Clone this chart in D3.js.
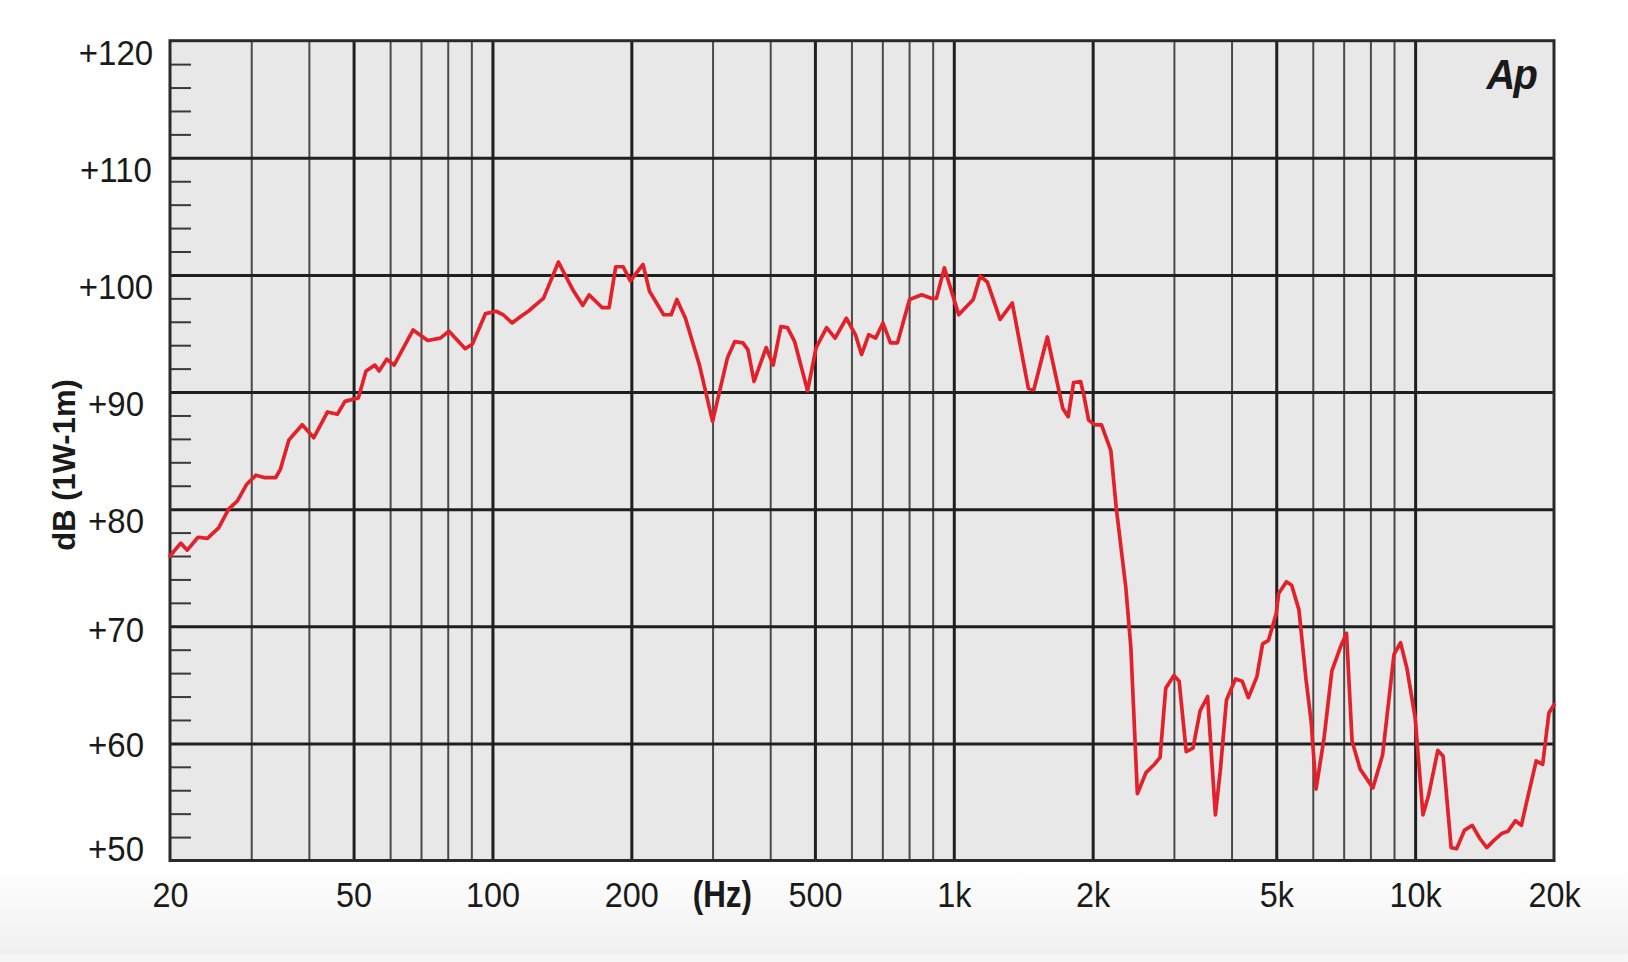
<!DOCTYPE html>
<html>
<head>
<meta charset="utf-8">
<script src="https://cdn.jsdelivr.net/npm/d3@7"></script>
<style>
  html, body { margin: 0; padding: 0; background: #ffffff; }
  svg { display: block; }
</style>
</head>
<body>
<svg id="chart" width="1628" height="962"></svg>
<script>
// ---------------- data ----------------
const freqs = [
  20, 21.1, 21.8, 23.0, 24.1, 25.5, 26.8, 28.0, 29.3, 30.7, 32.0, 33.9, 34.7, 36.2, 38.7, 41.0,
  43.9, 46.1, 47.9, 51.2, 53.2, 55.6, 56.8, 59.0, 61.2, 67.3, 72.4, 77.1, 80.5, 87.3, 90.5,
  96.6, 101.8, 105.5, 110.3, 115.5, 119.6, 126.3, 129, 139, 150, 157, 162, 173, 179, 185, 192,
  199, 212, 219, 235, 244, 251, 262, 281, 300, 323, 335, 349, 358, 369, 392, 406, 422, 436,
  452, 482, 503, 530, 553, 585, 612, 631, 654, 677, 702, 729, 755, 802, 852, 893, 917, 954,
  1025, 1102, 1141, 1182, 1260, 1339, 1451, 1491, 1595, 1723, 1770, 1818, 1883, 1910, 1960,
  2020, 2090, 2190, 2250, 2360, 2420, 2500, 2610, 2720, 2800, 2880, 3000, 3080, 3190, 3300,
  3420, 3550, 3690, 3780, 3900, 4080, 4220, 4350, 4540, 4670, 4810, 5000, 5060, 5260, 5400,
  5600, 5800, 5950, 6100, 6350, 6600, 6900, 7100, 7300, 7600, 8100, 8500, 9000, 9300, 9600,
  10000, 10400, 10700, 11200, 11500, 11970, 12300, 12800, 13300, 13800, 14300, 14800, 15400,
  15900, 16500, 17000, 17400, 18300, 18900, 19500, 20000
];
const spl = [
  76.0, 77.1, 76.5, 77.6, 77.5, 78.4, 80.0, 80.7, 82.1, 82.9, 82.7, 82.7, 83.4, 85.9, 87.2, 86.1,
  88.3, 88.1, 89.2, 89.5, 91.8, 92.3, 91.8, 92.8, 92.3, 95.3, 94.4, 94.6, 95.2, 93.7, 94.1,
  96.7, 96.9, 96.6, 95.9, 96.5, 96.9, 97.7, 98.0, 101.1, 98.6, 97.4, 98.3, 97.2, 97.2, 100.7, 100.7,
  99.5, 100.9, 98.6, 96.6, 96.6, 97.9, 96.3, 92.3, 87.5, 92.9, 94.3, 94.2, 93.6, 90.9, 93.8, 92.3, 95.6, 95.5,
  94.3, 90.1, 93.8, 95.5, 94.6, 96.3, 94.9, 93.2, 94.9, 94.6, 95.9, 94.2, 94.2, 97.9, 98.3, 98.0, 98.0, 100.6,
  96.6, 97.9, 99.9, 99.4, 96.2, 97.6, 90.3, 90.2, 94.7, 88.6, 87.9, 90.8, 90.9, 89.9, 87.6,
  87.2, 87.2, 85.0, 80.1, 73.3, 68.2, 55.7, 57.5, 58.2, 58.8, 64.7, 65.8, 65.3, 59.3, 59.6,
  62.8, 64.0, 53.9, 57.6, 63.7, 65.5, 65.3, 63.9, 65.7, 68.5, 68.8, 71.1, 72.8, 73.8, 73.5,
  71.4, 65.5, 61.9, 56.1, 60.5, 66.2, 68.3, 69.4, 60.2, 57.8, 56.2, 59.0, 67.6, 68.6, 66.4,
  62.2, 53.9, 55.6, 59.4, 58.9, 51.1, 51.0, 52.6, 53.0, 51.9, 51.1, 51.7, 52.3,
  52.5, 53.4, 53.0, 54.8, 58.5, 58.2, 62.6, 63.3
];
const xTickValues = [20, 50, 100, 200, 500, 1000, 2000, 5000, 10000, 20000];
const xTickLabels = ["20", "50", "100", "200", "500", "1k", "2k", "5k", "10k", "20k"];
const yTickValues = [50, 60, 70, 80, 90, 100, 110, 120];
const yTickLabels = ["+50", "+60", "+70", "+80", "+90", "+100", "+110", "+120"];
const majorGridFreqs = [50, 100, 200, 500, 1000, 2000, 5000, 10000];
const minorGridFreqs = [30, 40, 60, 70, 80, 90, 300, 400, 600, 700, 800, 900, 3000, 4000, 6000, 7000, 8000, 9000];
const majorGridDb = [60, 70, 80, 90, 100, 110];
const minorDbTicks = d3.range(52, 120, 2).filter(d => d % 10 !== 0);
const xUnitLabel = "(Hz)";
const yTitle = "dB (1W-1m)";
const logoText = "Ap";

// ---------------- layout ----------------
const L = 170, R = 1554, T = 40.7, B = 860.5;
const svg = d3.select("#chart");
const x = d3.scaleLog().domain([20, 20000]).range([L, R]);
const y = d3.scaleLinear().domain([50, 120]).range([B, T]);
// label centre positions (labels in the original drift slightly from the grid)
const yLab = d3.scaleLinear().domain([50, 60, 70, 80, 120]).range([848, 744, 629, 520, 52]);

const FONT = "'Liberation Sans', Arial, Helvetica, sans-serif";

// background with faint bottom gradient
const defs = svg.append("defs");
const grad = defs.append("linearGradient").attr("id", "bottomGrad")
  .attr("x1", 0).attr("y1", 0).attr("x2", 0).attr("y2", 1);
grad.append("stop").attr("offset", "0%").attr("stop-color", "#ffffff");
grad.append("stop").attr("offset", "100%").attr("stop-color", "#f0f0f0");
svg.append("rect").attr("width", 1628).attr("height", 962).attr("fill", "#ffffff");
svg.append("rect").attr("x", 0).attr("y", 866).attr("width", 1628).attr("height", 88).attr("fill", "url(#bottomGrad)");
svg.append("rect").attr("x", 0).attr("y", 954).attr("width", 1628).attr("height", 8).attr("fill", "#f6f6f6");

// plot background
svg.append("rect").attr("x", L).attr("y", T).attr("width", R - L).attr("height", B - T).attr("fill", "#e8e8e8");

// vertical minor grid
const gMinor = svg.append("g").attr("transform", `translate(0,${B})`)
  .call(d3.axisBottom(x).tickValues(minorGridFreqs).tickSize(-(B - T)).tickFormat(""));
gMinor.select(".domain").remove();
gMinor.selectAll("line").attr("stroke", "#4a4a4a").attr("stroke-width", 2);

// vertical major grid
const gMajor = svg.append("g").attr("transform", `translate(0,${B})`)
  .call(d3.axisBottom(x).tickValues(majorGridFreqs).tickSize(-(B - T)).tickFormat(""));
gMajor.select(".domain").remove();
gMajor.selectAll("line").attr("stroke", "#1f1f1f").attr("stroke-width", 3);

// horizontal grid
const gH = svg.append("g").attr("transform", `translate(${L},0)`)
  .call(d3.axisLeft(y).tickValues(majorGridDb).tickSize(-(R - L)).tickFormat(""));
gH.select(".domain").remove();
gH.selectAll("line").attr("stroke", "#1f1f1f").attr("stroke-width", 3);

// small inner ticks on the left edge
const gT = svg.append("g").attr("transform", `translate(${L},0)`)
  .call(d3.axisRight(y).tickValues(minorDbTicks).tickSize(21).tickFormat(""));
gT.select(".domain").remove();
gT.selectAll("line").attr("stroke", "#3a3a3a").attr("stroke-width", 2);

// frame
svg.append("rect").attr("x", L).attr("y", T).attr("width", R - L).attr("height", B - T)
  .attr("fill", "none").attr("stroke", "#2a2a2a").attr("stroke-width", 3);

// curve
const pts = freqs.map((f, i) => ({ f, v: spl[i] }));
svg.append("path").datum(pts)
  .attr("fill", "none").attr("stroke", "#e3212a").attr("stroke-width", 3.7)
  .attr("stroke-linejoin", "round").attr("stroke-linecap", "round")
  .attr("d", d3.line().x(d => x(d.f)).y(d => y(d.v)));

// x axis labels
const gX = svg.append("g").attr("transform", `translate(0,${B})`)
  .call(d3.axisBottom(x).tickValues(xTickValues).tickSize(0).tickFormat((d, i) => xTickLabels[i]));
gX.select(".domain").remove();
gX.selectAll("text")
  .attr("y", 46.5).attr("dy", 0)
  .attr("font-family", FONT).attr("font-size", 36).attr("fill", "#1a1a1a")
  .attr("text-anchor", "middle").attr("transform", "scale(0.9,1)");

// (Hz)
svg.append("text")
  .attr("transform", `translate(${x(315)},${B + 46.5}) scale(0.87,1)`)
  .attr("text-anchor", "middle").attr("font-family", FONT).attr("font-weight", "bold")
  .attr("font-size", 36).attr("fill", "#1a1a1a").text(xUnitLabel);

// y axis labels
const gY = svg.append("g").attr("transform", `translate(116,0)`)
  .call(d3.axisLeft(yLab).tickValues(yTickValues).tickSize(0).tickFormat((d, i) => yTickLabels[i]));
gY.select(".domain").remove();
gY.selectAll("text")
  .attr("x", 0).attr("dy", "0.355em")
  .attr("font-family", FONT).attr("font-size", 35.5).attr("fill", "#1a1a1a")
  .attr("text-anchor", "middle").attr("transform", "scale(0.93,1)");

// y title
svg.append("text")
  .attr("transform", `translate(75,465) rotate(-90)`)
  .attr("text-anchor", "middle").attr("font-family", FONT).attr("font-weight", "bold")
  .attr("font-size", 31).attr("fill", "#1a1a1a").text(yTitle);

// logo
svg.append("text")
  .attr("transform", `translate(1536,89) scale(0.95,1)`)
  .attr("text-anchor", "end").attr("font-family", FONT).attr("font-weight", "bold")
  .attr("font-style", "italic").attr("letter-spacing", -2)
  .attr("font-size", 42).attr("fill", "#1a1a1a").text(logoText);
</script>
</body>
</html>
